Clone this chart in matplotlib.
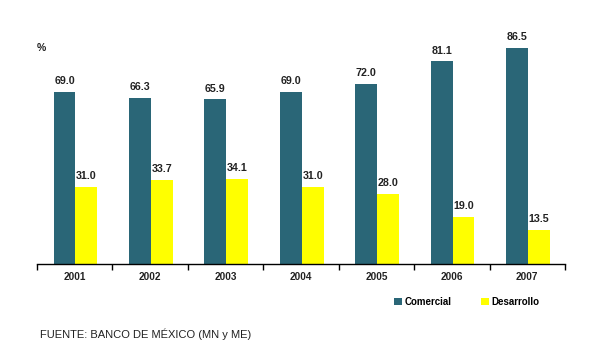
import numpy as np
import matplotlib
matplotlib.use('Agg')
import matplotlib.pyplot as plt

years = ['2001', '2002', '2003', '2004', '2005', '2006', '2007']
comercial = [69.0, 66.3, 65.9, 69.0, 72.0, 81.1, 86.5]
desarrollo = [31.0, 33.7, 34.1, 31.0, 28.0, 19.0, 13.5]

teal = '#2a6677'
yellow = '#ffff00'
text_color = '#222222'

plt.rcParams['font.family'] = ['Liberation Sans', 'DejaVu Sans']

fig = plt.figure(figsize=(6, 3.6), dpi=100)
ax = fig.add_axes([37 / 600, 1 - 264 / 360, 528 / 600, 234 / 360])

x = np.arange(len(years))
w = 0.29
b1 = ax.bar(x - w / 2 + 0.01, comercial, w, color=teal, label='Comercial')
b2 = ax.bar(x + w / 2 + 0.01, desarrollo, w, color=yellow, label='Desarrollo')

for bars, vals in ((b1, comercial), (b2, desarrollo)):
    for rect, v in zip(bars, vals):
        ax.text(rect.get_x() + rect.get_width() / 2, v + 2.3, f'{v:.1f}',
                ha='center', va='bottom', fontsize=7.7, fontweight='bold',
                color=text_color)

ax.set_xlim(-0.5, len(years) - 0.5)
ax.set_ylim(0, 93.6)
for s in ('top', 'right', 'left'):
    ax.spines[s].set_visible(False)
ax.spines['bottom'].set_linewidth(1)
ax.set_yticks([])

# tick marks on category boundaries, labels in the middle
ax.set_xticks(np.arange(len(years) + 1) - 0.5)
ax.set_xticklabels([])
ax.tick_params(axis='x', direction='out', length=4, width=1)
ax.set_xticks(x, minor=True)
ax.set_xticklabels(years, minor=True, fontsize=7.2, fontweight='bold', color=text_color)
ax.tick_params(axis='x', which='minor', length=0, pad=6)

fig.text(37 / 600, 1 - 48 / 360, '%', fontsize=7.5, fontweight='bold',
         color=text_color, va='center', ha='left')

fig.legend(handles=[b1, b2], labels=['Comercial', 'Desarrollo'], loc='center',
           bbox_to_anchor=(467 / 600, 1 - 302 / 360), ncol=2, frameon=False,
           handlelength=0.8, handleheight=0.8, handletextpad=0.3,
           columnspacing=3.0, prop={'weight': 'bold', 'size': 7})

fig.text(40 / 600, 1 - 334 / 360, 'FUENTE: BANCO DE MÉXICO (MN y ME)', fontsize=8,
         color=text_color, va='center', ha='left')

fig.savefig('out.png', dpi=100)
